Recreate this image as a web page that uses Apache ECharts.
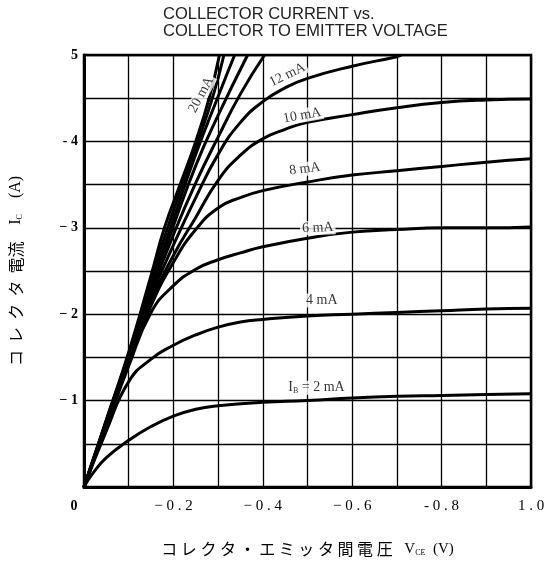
<!DOCTYPE html>
<html>
<head>
<meta charset="utf-8">
<script src="https://cdn.jsdelivr.net/npm/echarts@6/dist/echarts.min.js"></script>
<style>html,body{margin:0;padding:0;background:#fff}#c{width:553px;height:562px}</style>
</head>
<body>
<div id="c"></div>
<script>
// Collector current (A, magnitude) vs collector-emitter voltage (V, magnitude), per base current
const curve2mA  = [[0,0],[0.02,0.16],[0.05,0.34],[0.1,0.54],[0.15,0.7],[0.2,0.82],[0.25,0.9],[0.3,0.94],[0.4,0.98],[0.5,1.0],[0.6,1.03],[0.7,1.05],[0.8,1.06],[0.9,1.07],[1.0,1.08]];
const curve4mA  = [[0,0],[0.05,0.65],[0.1,1.22],[0.15,1.48],[0.2,1.64],[0.25,1.76],[0.3,1.85],[0.35,1.91],[0.4,1.94],[0.5,1.98],[0.6,2.0],[0.7,2.02],[0.8,2.04],[0.9,2.06],[1.0,2.07]];
const curve6mA  = [[0,0],[0.05,0.7],[0.1,1.4],[0.15,2.02],[0.2,2.33],[0.25,2.52],[0.3,2.63],[0.35,2.71],[0.4,2.78],[0.5,2.88],[0.6,2.95],[0.7,2.98],[0.8,3.0],[0.9,3.0],[1.0,3.01]];
const curve8mA  = [[0,0],[0.05,0.72],[0.1,1.44],[0.15,2.1],[0.2,2.6],[0.25,2.98],[0.3,3.23],[0.35,3.35],[0.4,3.43],[0.5,3.53],[0.6,3.61],[0.7,3.66],[0.8,3.71],[0.9,3.76],[1.0,3.8]];
const curve10mA = [[0,0],[0.05,0.73],[0.1,1.46],[0.15,2.15],[0.2,2.68],[0.25,3.12],[0.3,3.55],[0.35,3.84],[0.4,4.03],[0.45,4.14],[0.5,4.22],[0.6,4.31],[0.7,4.39],[0.8,4.45],[0.9,4.48],[1.0,4.49]];
const curve12mA = [[0,0],[0.05,0.74],[0.1,1.48],[0.15,2.2],[0.2,2.8],[0.25,3.35],[0.3,3.85],[0.35,4.22],[0.4,4.46],[0.45,4.62],[0.5,4.73],[0.6,4.87],[0.7,4.98],[0.71,5.0]];
const curve14mA = [[0,0],[0.05,0.75],[0.1,1.5],[0.15,2.25],[0.2,2.92],[0.25,3.52],[0.3,4.05],[0.35,4.55],[0.404,5.0]];
const curve16mA = [[0,0],[0.05,0.75],[0.1,1.5],[0.15,2.28],[0.2,3.02],[0.25,3.72],[0.3,4.3],[0.366,5.0]];
const curve18mA = [[0,0],[0.05,0.76],[0.1,1.52],[0.15,2.32],[0.2,3.1],[0.25,3.85],[0.3,4.52],[0.337,5.0]];
const curve19mA = [[0,0],[0.05,0.77],[0.1,1.54],[0.15,2.4],[0.2,3.2],[0.255,4.0],[0.29,4.55],[0.313,5.0]];
const curve20mA = [[0,0],[0.05,0.78],[0.1,1.56],[0.15,2.45],[0.18,3.0],[0.215,3.5],[0.25,4.0],[0.28,4.5],[0.303,5.0]];

const curveNames = ['2 mA','4 mA','6 mA','8 mA','10 mA','12 mA','14 mA','16 mA','18 mA','19 mA','20 mA'];
const curves = [curve2mA,curve4mA,curve6mA,curve8mA,curve10mA,curve12mA,curve14mA,curve16mA,curve18mA,curve19mA,curve20mA];

// Curve annotations: text and the [V, I] point where each sits
const annotationTexts = ['20 mA','12 mA','10 mA','8 mA','6 mA','4 mA','{n|I}{s|B}{n| = 2 mA}'];
const annotationPoints = [[0.262,4.54],[0.455,4.77],[0.488,4.3],[0.494,3.68],[0.523,3.0],[0.532,2.16],[0.52,1.15]];
const annotationRotations = [62,26,10,7,2,0,0];

// Tick labels (as printed)
const xTickLabels = {0:'',2:'− 0 . 2',4:'− 0 . 4',6:'− 0 . 6',8:'- 0 . 8',10:'1 . 0'};
const yTickLabels = {0:'',1:'− 1',2:'− 2',3:'− 3',4:'- 4',5:'5'};

const chart = echarts.init(document.getElementById('c'), null, {renderer:'canvas'});
const serif = '"Liberation Serif","DejaVu Serif",serif';
const cjk = '"Noto Sans CJK JP","Noto Sans",sans-serif';

const series = curves.map((d,i)=>({
  name: curveNames[i], type:'line', data:d, showSymbol:false, symbol:'none',
  smooth:0.5, silent:true, z:3,
  lineStyle:{color:'#000', width:3}
}));

series.push({
  type:'scatter', symbolSize:0, silent:true, z:5,
  data: annotationPoints.map((p,i)=>({
    value:p,
    label:{show:true, position:'inside', formatter:annotationTexts[i], rotate:annotationRotations[i],
      backgroundColor:'#fff', padding:[0,2], color:'#000', fontFamily:serif, fontSize:14,
      rich:{n:{fontFamily:serif,fontSize:14,color:'#000'}, s:{fontFamily:serif,fontSize:8,color:'#000',verticalAlign:'bottom',padding:[6,0,0,0]}}}
  }))
});

chart.setOption({
  animation:false,
  backgroundColor:'#fff',
  title:{
    text:'COLLECTOR CURRENT vs.\nCOLLECTOR TO EMITTER VOLTAGE',
    left:163, top:6, padding:0,
    textStyle:{fontFamily:'"Liberation Sans","DejaVu Sans",sans-serif', fontSize:16.5, fontWeight:'normal', color:'#222', lineHeight:17}
  },
  grid:{left:80, right:22, top:55, bottom:68, show:true, borderColor:'#000', borderWidth:2.5},
  xAxis:{
    type:'value', min:0, max:1, interval:0.1,
    axisLine:{show:true, onZero:false, lineStyle:{color:'#000', width:3}},
    axisTick:{show:false},
    splitLine:{show:true, lineStyle:{color:'#000', width:1.3}},
    axisLabel:{
      margin:12, color:'#000', fontFamily:serif, fontSize:15,
      formatter:v=>{const k=Math.round(v*10); if(k===0) return '{o|0}'; return xTickLabels[k]!==undefined?xTickLabels[k]:'';},
      rich:{o:{fontFamily:serif,fontSize:14,fontWeight:'bold',color:'#000',padding:[0,20,0,0]}}
    },
    name:'{t|コ レ ク タ ・ エ ミ ッ タ 間 電 圧}{g|   }{v|V}{s|CE}{v|  (V)}',
    nameLocation:'middle', nameGap:54,
    nameTextStyle:{rich:{
      t:{fontFamily:cjk,fontSize:16,color:'#000'},
      g:{fontSize:14},
      v:{fontFamily:serif,fontSize:15,color:'#000'},
      s:{fontFamily:serif,fontSize:8,color:'#000',verticalAlign:'bottom',padding:[6,0,0,0]}
    }}
  },
  yAxis:{
    type:'value', min:0, max:5, interval:0.5,
    axisLine:{show:true, lineStyle:{color:'#000', width:3}},
    axisTick:{show:false},
    splitLine:{show:true, lineStyle:{color:'#000', width:1.3}},
    axisLabel:{
      margin:6, color:'#000', fontFamily:serif, fontSize:14, fontWeight:'bold',
      formatter:v=>{const k=Math.round(v*2); if(k%2) return ''; return yTickLabels[k/2]||'';}
    },
    name:'{t|コ  レ  ク  タ  電流}{g|    }{v|I}{s|C}{v|    (A)}',
    nameLocation:'middle', nameGap:60,
    nameTextStyle:{rich:{
      t:{fontFamily:cjk,fontSize:16,color:'#000'},
      g:{fontSize:15},
      v:{fontFamily:serif,fontSize:16,color:'#000'},
      s:{fontFamily:serif,fontSize:8,color:'#000',verticalAlign:'bottom',padding:[6,0,0,0]}
    }}
  },
  series:series
});
</script>
</body>
</html>
